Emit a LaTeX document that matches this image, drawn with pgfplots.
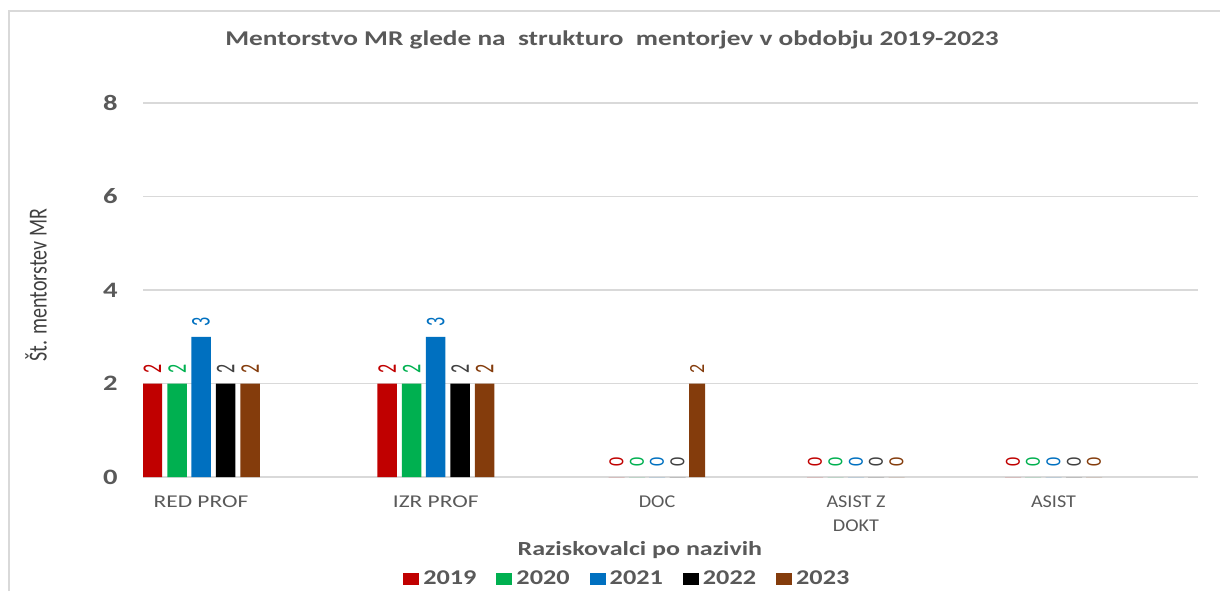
\documentclass[border=0pt]{standalone}
\usepackage{pgfplots}
\pgfplotsset{compat=1.18}
\usepackage{fontspec}
\usepackage{graphicx}
\setmainfont{Carlito}
\newfontfamily\wideA[FakeStretch=1.3]{Carlito}
\newfontfamily\wideB[FakeStretch=1.25]{Carlito}
\newfontfamily\wideC[FakeStretch=1.12]{Carlito}
\definecolor{c19}{HTML}{C00000}
\definecolor{c20}{HTML}{00B050}
\definecolor{c21}{HTML}{0070C0}
\definecolor{c22}{HTML}{000000}
\definecolor{c23}{HTML}{843C0C}
\definecolor{l22}{HTML}{404040}
\definecolor{txt}{HTML}{595959}
\definecolor{gridc}{HTML}{D9D9D9}
\pgfplotsset{rightlab/.style={nodes near coords={\scalebox{1}[1.2]{\pgfmathprintnumber\pgfplotspointmeta}}}}
\begin{document}
\begin{tikzpicture}
\useasboundingbox (0,0) rectangle (610pt,295.5pt);
\draw[gridc, line width=1.2pt] (4.5pt,0) -- (4.5pt,290pt) -- (610pt,290pt);
\begin{axis}[
  at={(71.5pt,57pt)}, anchor=south west,
  scale only axis, width=527.5pt, height=187pt,
  xmin=143, xmax=1198, ymin=0, ymax=8,
  axis line style={draw=none},
  ytick={0,2,4,6,8},
  ymajorgrids, grid style={gridc, line width=0.9pt},
  major tick length=0pt,
  xtick={201,435.7,657,856,1053.5},
  xticklabels={{\wideA RED PROF}, {\wideA IZR PROF}, {\wideC DOC}, {\wideC ASIST Z\\\wideC DOKT}, {\wideC ASIST}},
  /pgf/number format/assume math mode=true,
  yticklabel style={font=\wideA\bfseries\fontsize{11}{13}\selectfont, text=txt, anchor=east, inner sep=0pt, xshift=-12.5pt},
  xticklabel style={font=\fontsize{9}{12}\selectfont, text=txt, anchor=north, inner sep=0pt, yshift=-9pt, align=center},
  every axis title shift=0pt,
  title={Mentorstvo MR glede na~ strukturo~ mentorjev v obdobju 2019-2023},
  title style={at={(axis description cs:0.4446,1.168)}, anchor=center, font=\wideA\bfseries\fontsize{10.5}{12}\selectfont, text=txt},
  xlabel={Raziskovalci po nazivih},
  xlabel style={at={(axis description cs:0.471,-0.195)}, anchor=center, font=\wideA\bfseries\fontsize{10}{12}\selectfont, text=txt},
  ylabel={\scalebox{1}[1.3]{Št. mentorstev MR}},
  ylabel style={at={(axis description cs:-0.1014,0.513)}, anchor=center, rotate=0, font=\fontsize{10}{12}\selectfont, text=l22},
  ybar, bar shift=0pt,
  nodes near coords={\scalebox{1}[1.5]{\pgfmathprintnumber\pgfplotspointmeta}},
  every node near coord/.append style={rotate=90, anchor=west, inner xsep=5pt, inner ysep=0pt, font=\fontsize{9}{10}\selectfont},
  legend style={at={(axis description cs:0.46,-0.273)}, anchor=center, legend columns=5, draw=none, fill=none,
    font=\wideB\bfseries\fontsize{10.5}{12}\selectfont, text=txt,
    /tikz/every even column/.append style={column sep=8pt}},
  legend image code/.code={\fill[#1] (0pt,-3pt) rectangle (8pt,3pt);},
]
% left groups (RED PROF, IZR PROF)
\addplot[fill=c19, draw=none, bar width=19.5, every node near coord/.append style={text=c19}] coordinates {(152.3,2) (387,2)};
\addlegendentry{2019}
\addplot[fill=c20, draw=none, bar width=19.5, every node near coord/.append style={text=c20}] coordinates {(177,2) (411.5,2)};
\addlegendentry{2020}
\addplot[fill=c21, draw=none, bar width=19.5, every node near coord/.append style={text=c21}] coordinates {(201,3) (435.7,3)};
\addlegendentry{2021}
\addplot[fill=c22, draw=none, bar width=19.5, every node near coord/.append style={text=l22}] coordinates {(225.5,2) (460,2)};
\addlegendentry{2022}
\addplot[fill=c23, draw=none, bar width=19.5, every node near coord/.append style={text=c23}] coordinates {(250,2) (484.5,2)};
\addlegendentry{2023}
% right groups (DOC, ASIST Z DOKT, ASIST)
\addplot[forget plot, rightlab, fill=c19, draw=none, bar width=16, every node near coord/.append style={text=c19}] coordinates {(616.5,0) (815,0) (1013,0)};
\addplot[forget plot, rightlab, fill=c20, draw=none, bar width=16, every node near coord/.append style={text=c20}] coordinates {(637,0) (835.5,0) (1033,0)};
\addplot[forget plot, rightlab, fill=c21, draw=none, bar width=16, every node near coord/.append style={text=c21}] coordinates {(657,0) (856,0) (1053.5,0)};
\addplot[forget plot, rightlab, fill=c22, draw=none, bar width=16, every node near coord/.append style={text=l22}] coordinates {(677.5,0) (876,0) (1074,0)};
\addplot[forget plot, rightlab, fill=c23, draw=none, bar width=16, every node near coord/.append style={text=c23}] coordinates {(697,2) (896.5,0) (1094,0)};
\end{axis}
\end{tikzpicture}
\end{document}
